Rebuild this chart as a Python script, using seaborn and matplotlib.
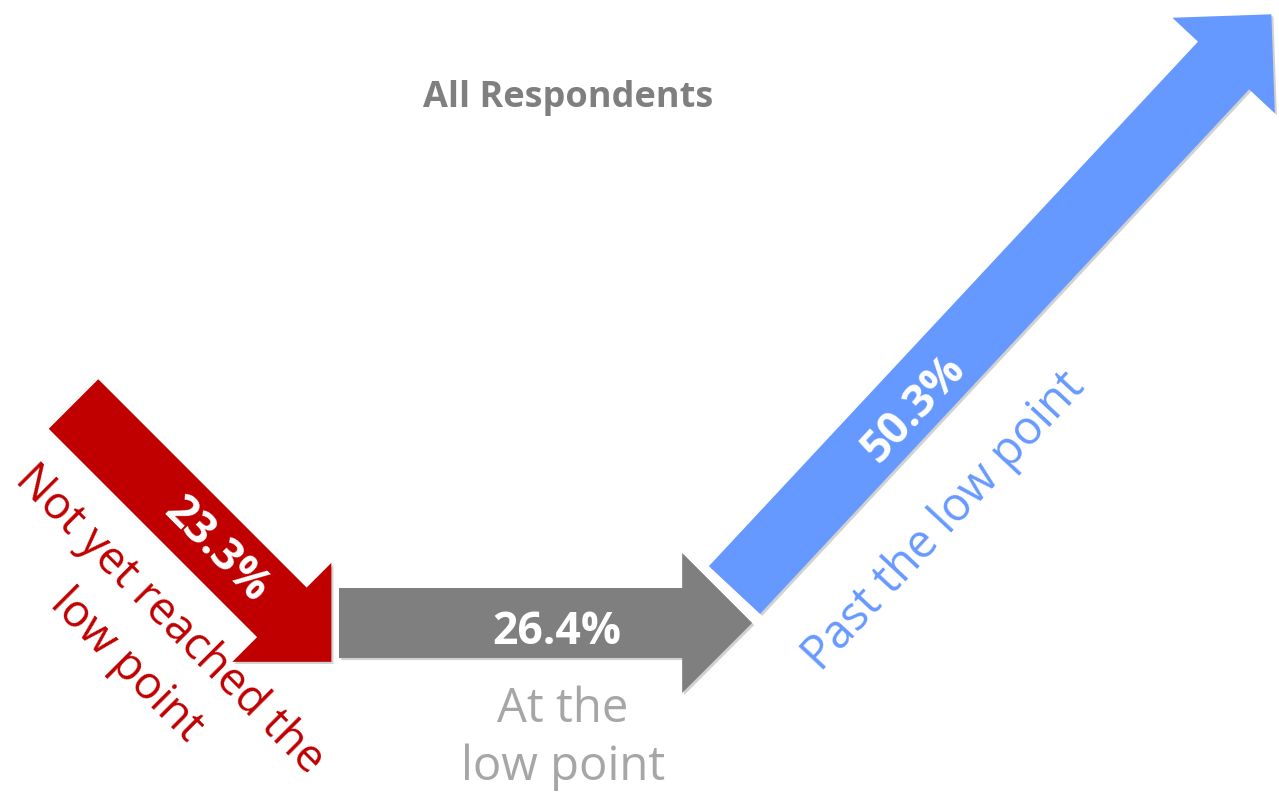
import numpy as np
import matplotlib
matplotlib.use("Agg")
import matplotlib.pyplot as plt
import matplotlib.patheffects as pe
from matplotlib.patches import Polygon
import seaborn as sns

# Data
categories = ["Not yet reached the\nlow point", "At the\nlow point", "Past the low point"]
shares = [23.3, 26.4, 50.3]
arrow_colors = ["#C00000", "#7F7F7F", "#6699FF"]
label_colors = ["#C00000", "#A6A6A6", "#6699FF"]
title = "All Respondents"

# Layout (pixel space, y down)
tails = [(73.5, 404), (339, 623), (734.5, 590)]
angles = [-45, 0, 47]            # screen angle of each arrow
px_per_pct = 15.65               # arrow length per percentage point
pct_pos = [(220, 547), (557, 627), (910, 405)]
red_line_pos = [(170, 620), (126, 666)]
cat_pos = [None, (563, 780), (944, 522)]

sns.set_theme(style="white")
plt.rcParams["font.family"] = ["Open Sans", "DejaVu Sans"]

fig = plt.figure(figsize=(12.79, 7.93), dpi=100)
ax = fig.add_axes([0, 0, 1, 1])
ax.set_xlim(0, 1279)
ax.set_ylim(793, 0)
ax.axis("off")


def arrow_poly(tail, angle, length, w=35, hw=70, hl=70):
    a = np.deg2rad(angle)
    d = np.array([np.cos(a), -np.sin(a)])
    n = np.array([np.sin(a), np.cos(a)])
    t = np.array(tail)
    b = t + d * (length - hl)
    pts = [t + n * w, b + n * w, b + n * hw, t + d * length,
           b - n * hw, b - n * w, t - n * w]
    return np.array(pts)


shadow = [pe.SimplePatchShadow(offset=(1.5, -1.5), shadow_rgbFace="#000000", alpha=0.18), pe.Normal()]

for tail, ang, val, col in zip(tails, angles, shares, arrow_colors):
    poly = Polygon(arrow_poly(tail, ang, val * px_per_pct), closed=True,
                   facecolor=col, edgecolor="none", zorder=2)
    poly.set_path_effects(shadow)
    ax.add_patch(poly)

# percentage labels on the arrows
for (x, y), ang, val in zip(pct_pos, angles, shares):
    ax.text(x, y, f"{val:.1f}%", color="white", fontsize=32, fontweight="bold",
            rotation=ang, rotation_mode="anchor", ha="center", va="center_baseline", zorder=3)

# category labels (red one drawn line by line along its diagonal)
for (x, y), line in zip(red_line_pos, categories[0].split("\n")):
    ax.text(x, y, line, color=label_colors[0], fontsize=32.5, rotation=-45,
            ha="center", va="center")
ax.text(*cat_pos[1], categories[1], color=label_colors[1], fontsize=34,
        ha="center", va="baseline", multialignment="center", linespacing=1.28)
ax.text(*cat_pos[2], categories[2], color=label_colors[2], fontsize=33.5, rotation=47,
        ha="center", va="center")

ax.text(568, 107, title, color="#7F7F7F", fontsize=26, fontweight="bold",
        ha="center", va="baseline")

fig.savefig("out.png", dpi=100)
